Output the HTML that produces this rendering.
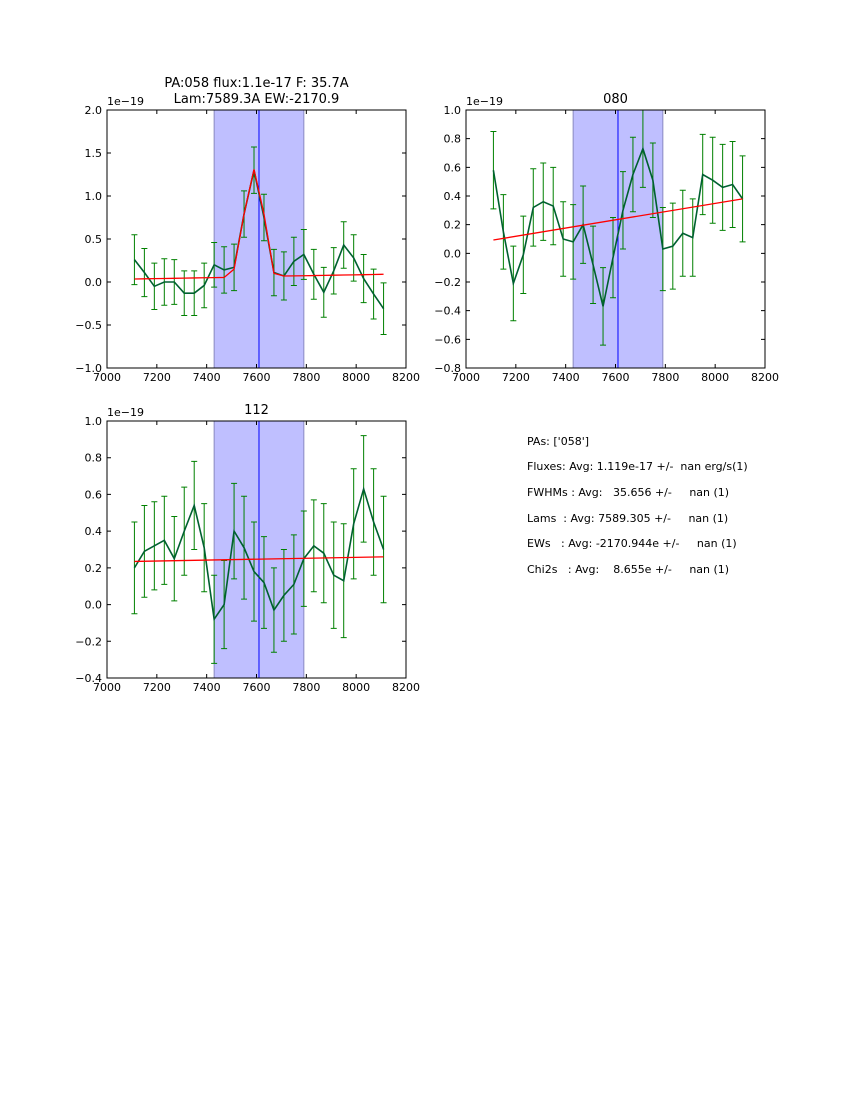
<!DOCTYPE html>
<html><head><meta charset="utf-8"><style>
body{margin:0;background:#fff}
svg{display:block;font-family:"DejaVu Sans","Liberation Sans",sans-serif}
</style></head><body>
<svg id="fig" width="850" height="1100" viewBox="0 0 850 1100">
<rect width="850" height="1100" fill="#fff"/>
<g font-size="11" fill="#000">
<text x="527" y="445">PAs: ['058']</text>
<text x="527" y="470" xml:space="preserve">Fluxes: Avg: 1.119e-17 +/-  nan erg/s(1)</text>
<text x="527" y="496" xml:space="preserve">FWHMs : Avg:   35.656 +/-     nan (1)</text>
<text x="527" y="522" xml:space="preserve">Lams  : Avg: 7589.305 +/-     nan (1)</text>
<text x="527" y="547" xml:space="preserve">EWs   : Avg: -2170.944e +/-     nan (1)</text>
<text x="527" y="573" xml:space="preserve">Chi2s   : Avg:    8.655e +/-     nan (1)</text>
</g>
</svg>
<script>
const wave=[7110,7150,7190,7230,7270,7310,7350,7390,7430,7470,7510,7550,7590,7630,7670,7710,7750,7790,7830,7870,7910,7950,7990,8030,8070,8110];
const flux058=[0.26,0.11,-0.05,0,0,-0.13,-0.13,-0.04,0.2,0.14,0.17,0.79,1.3,0.75,0.11,0.07,0.24,0.32,0.09,-0.12,0.13,0.43,0.28,0.04,-0.14,-0.31];
const err058=[0.29,0.28,0.27,0.27,0.26,0.26,0.26,0.26,0.26,0.27,0.27,0.27,0.27,0.27,0.27,0.28,0.28,0.29,0.29,0.29,0.27,0.27,0.27,0.28,0.29,0.3];
const fit058=[0.035,0.037,0.039,0.041,0.043,0.045,0.047,0.049,0.051,0.053,0.15,0.79,1.31,0.79,0.1,0.07,0.071,0.073,0.075,0.077,0.079,0.081,0.083,0.085,0.087,0.09];
const flux080=[0.58,0.15,-0.21,-0.01,0.32,0.36,0.33,0.1,0.08,0.2,-0.08,-0.37,-0.03,0.3,0.55,0.73,0.51,0.03,0.05,0.14,0.11,0.55,0.51,0.46,0.48,0.38];
const err080=[0.27,0.26,0.26,0.27,0.27,0.27,0.27,0.26,0.26,0.27,0.27,0.27,0.28,0.27,0.26,0.27,0.26,0.29,0.3,0.3,0.27,0.28,0.3,0.3,0.3,0.3];
const fit080=[0.093,0.38];
const flux112=[0.2,0.29,0.32,0.35,0.25,0.4,0.54,0.31,-0.08,0,0.4,0.31,0.18,0.12,-0.03,0.05,0.11,0.25,0.32,0.28,0.16,0.13,0.44,0.63,0.45,0.3];
const err112=[0.25,0.25,0.24,0.24,0.23,0.24,0.24,0.24,0.24,0.24,0.26,0.28,0.27,0.25,0.23,0.25,0.27,0.26,0.25,0.27,0.29,0.31,0.3,0.29,0.29,0.29];
const fit112=[0.235,0.26];
const xTicks=[7000,7200,7400,7600,7800,8000,8200];
const yTicks1=[-1.0,-0.5,0.0,0.5,1.0,1.5,2.0];
const yTicks2=[-0.8,-0.6,-0.4,-0.2,0.0,0.2,0.4,0.6,0.8,1.0];
const yTicks3=[-0.4,-0.2,0.0,0.2,0.4,0.6,0.8,1.0];
const spanLo=7430, spanHi=7790, lamLine=7610;

const NS='http://www.w3.org/2000/svg';
const fig=document.getElementById('fig');
function mk(tag,attrs,parent){const e=document.createElementNS(NS,tag);for(const k in attrs)e.setAttribute(k,attrs[k]);(parent||fig).appendChild(e);return e;}

function panel(name,L,T,W,H,ymin,ymax,yt,flux,err,fit,fitLinear,titleLines){
  const g=mk('g',{});
  
  
  const sx=v=>L+(v-7000)/1200*W;
  const sy=v=>T+(ymax-v)/(ymax-ymin)*H;
  const clip=mk('clipPath',{id:'c'+name},g);
  mk('rect',{x:L,y:T,width:W,height:H},clip);
  const inner=mk('g',{'clip-path':'url(#c'+name+')'},g);
  const sp=mk('rect',{x:sx(spanLo),y:T,width:sx(spanHi)-sx(spanLo),height:H,fill:'#bfbfff',stroke:'#8a8ac0','stroke-width':1},inner);
  
  
  const bl=mk('line',{x1:sx(lamLine),x2:sx(lamLine),y1:T,y2:T+H,stroke:'#0000ff','stroke-width':1},inner);
  
  
  for(let i=0;i<wave.length;i++){
    const x=sx(wave[i]),y1=sy(flux[i]-err[i]),y2=sy(flux[i]+err[i]);
    const eb=mk('path',{d:`M${x},${y1}V${y2}M${x-3},${y1}h6M${x-3},${y2}h6`,stroke:'#008000','stroke-width':1,fill:'none'},inner);
    
    
  }
  const pts=wave.map((w,i)=>sx(w)+','+sy(flux[i])).join(' ');
  const dl=mk('polyline',{points:pts,fill:'none',stroke:'#006030','stroke-width':1.6},inner);
  
  
  let fpts;
  if(fitLinear) fpts=sx(wave[0])+','+sy(fit[0])+' '+sx(wave[wave.length-1])+','+sy(fit[1]);
  else fpts=wave.map((w,i)=>sx(w)+','+sy(fit[i])).join(' ');
  const fl=mk('polyline',{points:fpts,fill:'none',stroke:'#ff0000','stroke-width':1.3},inner);
  
  
  const fr=mk('rect',{x:L,y:T,width:W,height:H,fill:'none',stroke:'#000','stroke-width':1},g);
  
  
  xTicks.forEach(v=>{
    const x=sx(v);
    mk('path',{d:`M${x},${T}v4M${x},${T+H}v-4`,stroke:'#000','stroke-width':1},g);
    const t=mk('text',{x:x,y:T+H+13,'font-size':11,'text-anchor':'middle'},g);
    t.textContent=v;
    
    
  });
  yt.forEach(v=>{
    const y=sy(v);
    mk('path',{d:`M${L},${y}h4M${L+W},${y}h-4`,stroke:'#000','stroke-width':1},g);
    const t=mk('text',{x:L-5,y:y+4,'font-size':11,'text-anchor':'end'},g);
    t.textContent=(v<0?'\u2212':'')+Math.abs(v).toFixed(1);
    
    
  });
  const off=mk('text',{x:L,y:T-5,'font-size':11},g);
  off.textContent='1e\u221219';
  
  
  titleLines.forEach((s,k)=>{
    const t=mk('text',{x:L+W/2,y:T-7-(titleLines.length-1-k)*16,'font-size':13,'text-anchor':'middle'},g);
    t.textContent=s;
    
    
  });
}
panel('panel-058',107,110,299,258,-1.0,2.0,yTicks1,flux058,err058,fit058,false,['PA:058 flux:1.1e-17 F: 35.7A','Lam:7589.3A EW:-2170.9']);
panel('panel-080',466,110,299,258,-0.8,1.0,yTicks2,flux080,err080,fit080,true,['080']);
panel('panel-112',107,421,299,257,-0.4,1.0,yTicks3,flux112,err112,fit112,true,['112']);
</script>
</body></html>
